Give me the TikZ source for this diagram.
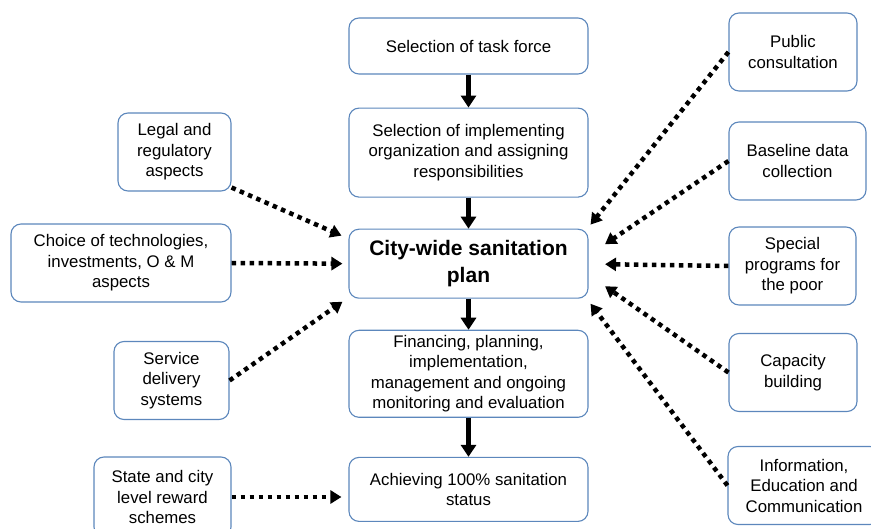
\documentclass[tikz,border=0pt]{standalone}
\usepackage{fontspec}
\setmainfont{Liberation Sans}
\usetikzlibrary{arrows.meta,positioning,calc}
\definecolor{boxline}{RGB}{92,135,188}

\begin{document}
\begin{tikzpicture}[
    x=1pt, y=-1pt,
    node distance=33pt,
    font=\fontsize{16.8}{20.5}\selectfont,
    box/.style={rectangle, rounded corners=10pt, draw=boxline, line width=1.1pt, fill=white, align=center, minimum width=239pt, inner sep=2pt},
    side/.style={rectangle, rounded corners=10pt, draw=boxline, line width=1.1pt, fill=white, align=center, minimum height=78pt, inner sep=2pt},
    flow/.style={-{Triangle[length=12pt,width=15pt]}, line width=4.5pt},
    feed/.style={-{Triangle[length=11pt,width=13pt]}, line width=4.5pt, dash pattern=on 4.5pt off 4.5pt}
]
\useasboundingbox (0,0) rectangle (871,529);

% main column
\node[box, minimum height=56pt] (task) at (468.5,46) {Selection of task force};
\node[box, minimum height=89pt, below=of task] (impl) {Selection of implementing\\organization and assigning\\responsibilities};
\node[box, minimum height=69pt, below=31pt of impl, font=\bfseries\fontsize{21}{27}\selectfont] (plan) {City-wide sanitation\\plan};
\node[box, minimum height=87pt, below=31pt of plan] (fin) {Financing, planning,\\implementation,\\management and ongoing\\monitoring and evaluation};
\node[box, minimum height=64pt, below=39pt of fin] (goal) {Achieving 100\% sanitation\\status};

% left inputs
\node[side, minimum width=113pt] (legal) at (174.5,152) {Legal and\\regulatory\\aspects};
\node[side, minimum width=220pt] (tech) at (121,263) {Choice of technologies,\\investments, O \& M\\aspects};
\node[side, minimum width=115pt] (service) at (171.5,380.5) {Service\\delivery\\systems};
\node[side, minimum width=137pt, minimum height=80pt] (reward) at (162.5,497) {State and city\\level reward\\schemes};

% right inputs
\node[side, minimum width=128pt] (public) at (793,52) {Public\\consultation};
\node[side, minimum width=137pt] (base) at (797.5,161) {Baseline data\\collection};
\node[side, minimum width=127pt] (poor) at (792.5,266) {Special\\programs for\\the poor};
\node[side, minimum width=128pt] (capacity) at (793,372.5) {Capacity\\building};
\node[side, minimum width=152pt] (iec) at (804,485.5) {Information,\\Education and\\Communication};

% arrow ends round the plan
\coordinate (legalend) at ($(plan.north west)+(-7,7)$);
\coordinate (serviceend) at ($(plan.south west)+(-6,3)$);
\coordinate (publicend) at ($(plan.north east)+(2,-4)$);
\coordinate (baseend) at ($(plan.east)+(16.5,-19.5)$);
\coordinate (poorend) at ($(plan.east)+(16.5,0.5)$);
\coordinate (capacityend) at ($(plan.east)+(16.5,22.5)$);
\coordinate (iecend) at ($(plan.south east)+(2,5)$);

\draw[flow] (task) -- (impl);
\draw[flow] (impl) -- (plan);
\draw[flow] (plan) -- (fin);
\draw[flow] (fin) -- (goal);

\draw[feed] ([yshift=4pt]legal.south east) -- (legalend);
\draw[feed, shorten >=6pt] (tech.east) -- (plan.west);
\draw[feed] (service.east) -- (serviceend);
\draw[feed, shorten >=7pt] (reward.east) -- (reward.east -| goal.west);

\draw[feed] (public.west) -- (publicend);
\draw[feed] (base.west) -- (baseend);
\draw[feed] (poor.west) -- (poorend);
\draw[feed] (capacity.west) -- (capacityend);
\draw[feed] (iec.west) -- (iecend);
\end{tikzpicture}
\end{document}
